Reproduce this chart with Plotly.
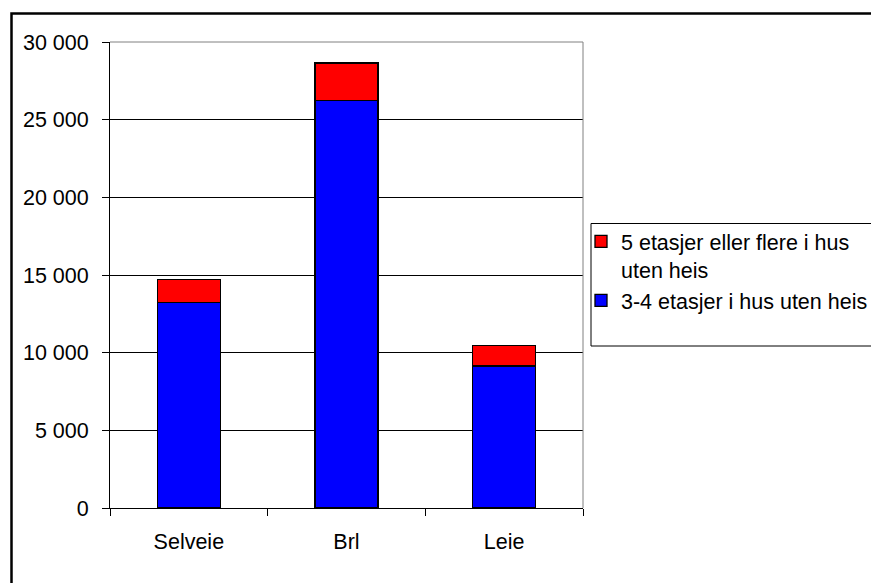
import plotly.graph_objects as go

# Boligtyper uten heis, antall boliger etter eierform
CATEGORIES = ["Selveie", "Brl", "Leie"]
LOW_RISE = [13250, 26250, 9150]      # 3-4 etasjer i hus uten heis
HIGH_RISE = [1480, 2400, 1290]       # 5 etasjer eller flere i hus uten heis
SERIES_NAMES = ["3-4 etasjer i hus uten heis", "5 etasjer eller flere i hus<br>uten heis"]
Y_TICKS = [0, 5000, 10000, 15000, 20000, 25000, 30000]
Y_TICK_TEXT = ["0", "5 000", "10 000", "15 000", "20 000", "25 000", "30 000"]

W, H = 879, 583
OFF = 8  # page body margin
L, T = 110 - OFF, 42 - OFF
R, B = W - (583 - OFF), H - (508 - OFF)
PW, PH = W - L - R, H - T - B


def px_x(x):
    """screen x (px) -> paper x"""
    return (x - OFF - L) / PW


def px_y(y):
    """screen y (px) -> paper y"""
    return (H - B - (y - OFF)) / PH


FONT = dict(family="Liberation Sans, Arial, sans-serif", size=21.5, color="#000000")

fig = go.Figure()
fig.add_trace(go.Bar(
    x=CATEGORIES, y=LOW_RISE, name=SERIES_NAMES[0], width=0.4, legendgroup="a",
    marker=dict(color="#0000FF", line=dict(color="#000000", width=1.3)),
))
fig.add_trace(go.Bar(
    x=CATEGORIES, y=HIGH_RISE, name=SERIES_NAMES[1], width=0.4, legendgroup="b",
    marker=dict(color="#FF0000", line=dict(color="#000000", width=1.3)),
))

fig.update_yaxes(
    range=[0, 30000], tickmode="array", tickvals=Y_TICKS, ticktext=Y_TICK_TEXT,
    showgrid=True, gridcolor="#000000", gridwidth=1, zeroline=False,
    showline=True, linecolor="#000000", linewidth=1,
    ticks="outside", ticklen=7, tickcolor="#000000", ticklabelstandoff=9,
    tickfont=FONT, fixedrange=True,
)
fig.update_xaxes(
    showline=True, linecolor="#000000", linewidth=1,
    ticks="outside", ticklen=7, tickcolor="#000000", tickson="boundaries",
    ticklabelstandoff=14, tickfont=FONT, fixedrange=True,
)

shapes = [
    # grey plot-area frame, top and right
    dict(type="line", xref="paper", yref="paper", x0=0, x1=1, y0=1, y1=1,
         line=dict(color="#808080", width=1)),
    dict(type="line", xref="paper", yref="paper", x0=1, x1=1, y0=0, y1=1,
         line=dict(color="#808080", width=1)),
    # legend box
    dict(type="rect", xref="paper", yref="paper",
         x0=px_x(591), x1=px_x(876), y0=px_y(346), y1=px_y(223.5),
         line=dict(color="#000000", width=1)),
    # outer chart border (cropped at right and bottom)
    dict(type="rect", xref="paper", yref="paper",
         x0=px_x(11.5), x1=px_x(950), y0=px_y(650), y1=px_y(13.5),
         line=dict(color="#000000", width=2.5)),
]

fig.update_layout(
    width=W, height=H,
    margin=dict(l=L, r=R, t=T, b=B),
    barmode="stack", bargap=0.6,
    font=FONT,
    paper_bgcolor="#FFFFFF", plot_bgcolor="#FFFFFF",
    showlegend=True,
    legend=dict(
        x=px_x(581), y=px_y(221), xanchor="left", yanchor="top",
        traceorder="reversed", valign="top", font=FONT, tracegroupgap=6,
        bgcolor="rgba(0,0,0,0)", borderwidth=0, itemwidth=30,
    ),
    shapes=shapes,
)

fig.write_html("out.html", config=dict(displayModeBar=False))
